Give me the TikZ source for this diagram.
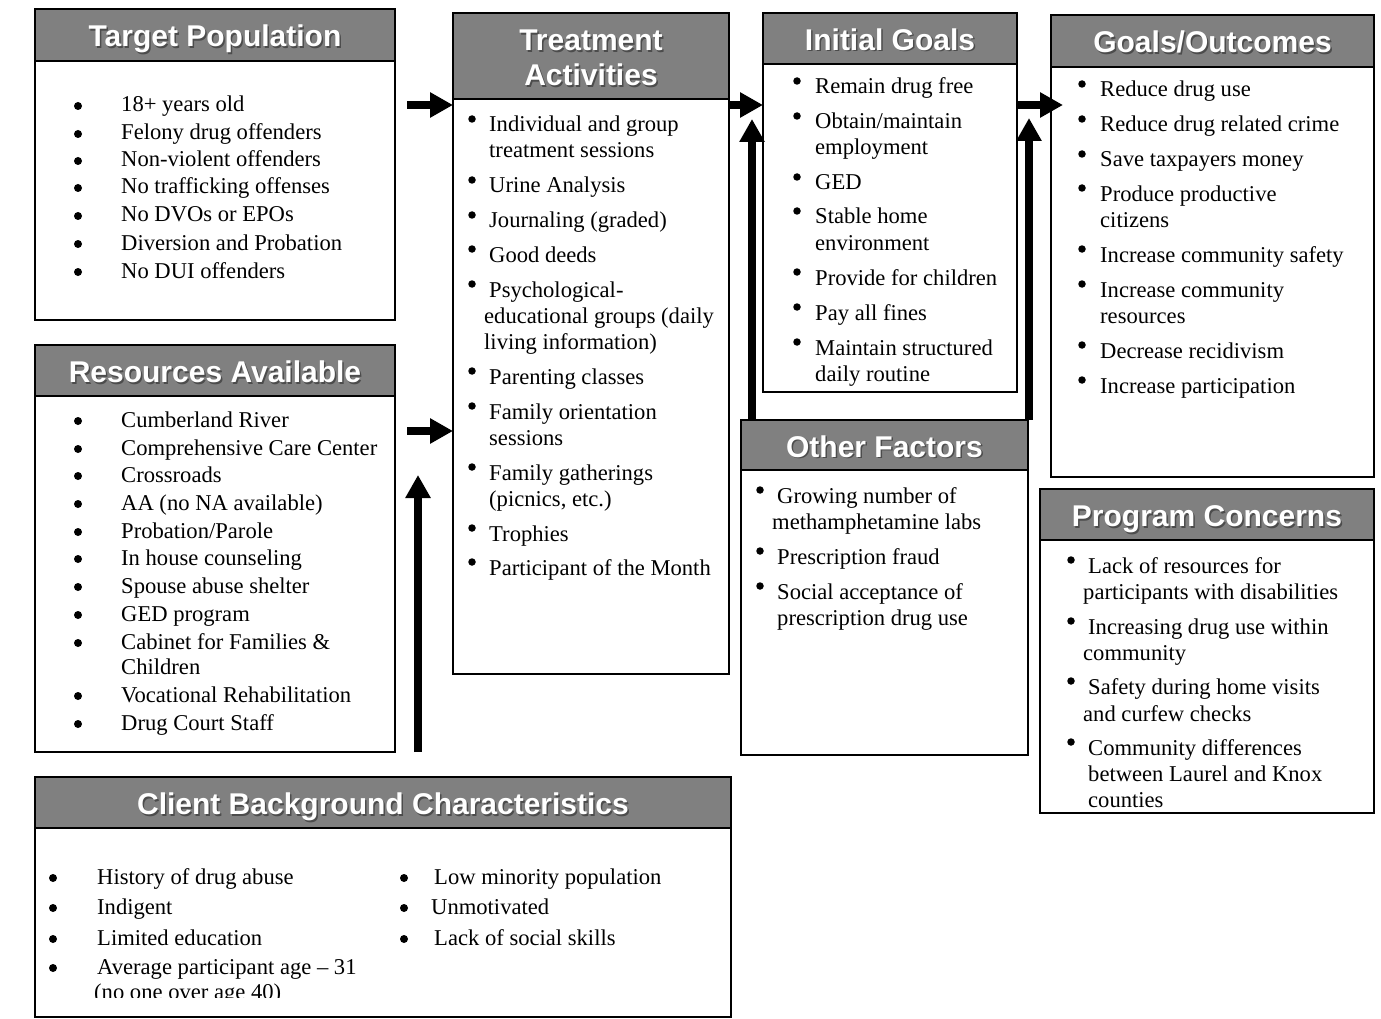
\documentclass[tikz,border=0pt]{standalone}
\usepackage{fontspec}
\setmainfont{Liberation Serif}
\newfontfamily\headfont{Liberation Sans}
\usetikzlibrary{arrows.meta}
\definecolor{hgray}{rgb}{0.5, 0.5, 0.5}
\definecolor{hshade}{rgb}{0.3, 0.3, 0.3}
\newcommand{\shtext}[1]{\rlap{\hspace{1.5pt}\raisebox{-1.5pt}{\textcolor{hshade}{#1}}}#1}
\tikzset{panel/.style = {draw, line width=2pt, rectangle, anchor=north west,
                         inner sep=0, outer sep=0}}
\tikzset{head/.style = {panel, fill=hgray, text=white, align=center,
                        font=\headfont\bfseries\fontsize{30}{35}\selectfont,
                        text height=24pt, text depth=0pt}}
\tikzset{itm/.style = {anchor=base west, inner sep=0, font=\fontsize{22.6}{26}\selectfont}}
\tikzset{bul/.style = {circle, fill, inner sep=0, minimum size=8pt, yshift=6pt}}
\tikzset{bulup/.style = {circle, fill, inner sep=0, minimum size=7.5pt, yshift=13pt}}
\tikzset{fat/.style = {line width=8pt, -{Triangle[width=24pt, length=23pt]}}}

\begin{document}
\begin{tikzpicture}[x=1pt, y=-1pt]
    \useasboundingbox[fill=white] (0,0) rectangle (1381,1019);

    % panels
    \node [panel, minimum width=360pt, minimum height=311pt] (tp) at (35,9) {};
    \node [panel, minimum width=360pt, minimum height=407pt] (rs) at (35,345) {};
    \node [panel, minimum width=276pt, minimum height=661pt] (ta) at (453,13) {};
    \node [panel, minimum width=254pt, minimum height=379pt] (ig) at (763,13) {};
    \node [panel, minimum width=323pt, minimum height=462pt] (go) at (1051,15) {};
    \node [panel, minimum width=287pt, minimum height=335pt] (of) at (741,420) {};
    \node [panel, minimum width=334pt, minimum height=324pt] (pc) at (1040,489) {};
    \node [panel, minimum width=696pt, minimum height=240pt] (cb) at (35,777) {};

    % headers
    \node [head, minimum width=360pt, minimum height=52pt] (tph) at (tp.north west) {\shtext{Target Population}};
    \node [head, minimum width=360pt, minimum height=51pt] (rsh) at (rs.north west) {\shtext{Resources Available}};
    \node [head, minimum width=276pt, minimum height=86pt, text height=60pt, text depth=0pt] (tah) at (ta.north west)
          {\shtext{Treatment}\\\shtext{Activities}};
    \node [head, minimum width=254pt, minimum height=51pt] (igh) at (ig.north west) {\shtext{Initial Goals}};
    \node [head, minimum width=323pt, minimum height=52pt] (goh) at (go.north west) {\shtext{Goals/Outcomes}};
    \node [head, minimum width=287pt, minimum height=50pt] (ofh) at (of.north west) {\shtext{Other Factors}};
    \node [head, minimum width=334pt, minimum height=51pt] (pch) at (pc.north west) {\shtext{Program Concerns}};
    \node [head, minimum width=696pt, minimum height=51pt] (cbh) at (cb.north west) {\shtext{Client Background Characteristics}};

    % items
    \foreach \bx/\x/\y/\t [count=\i] in {78/121/112/18+ years old, 78/121/140/Felony drug offenders,
        78/121/167/Non-violent offenders, 78/121/194/No trafficking offenses, 78/121/222/No DVOs or EPOs,
        78/121/250/Diversion and Probation, 78/121/278/No DUI offenders}
      {\node [itm] (tp-\i) at (\x,\y) {\t};
       \ifnum\bx>0 \node [bul] (tpb-\i) at (\bx,\y) {};\fi}

    \foreach \bx/\x/\y/\t [count=\i] in {78/121/427/Cumberland River, 78/121/455/Comprehensive Care Center,
        78/121/482/Crossroads, 78/121/510/{AA (no NA available)}, 78/121/538/{Probation/Parole},
        78/121/565/In house counseling, 78/121/593/Spouse abuse shelter, 78/121/621/GED program,
        78/121/649/{Cabinet for Families \&}, 0/121/674/Children, 78/121/702/Vocational Rehabilitation,
        78/121/730/Drug Court Staff}
      {\node [itm] (rs-\i) at (\x,\y) {\t};
       \ifnum\bx>0 \node [bul] (rsb-\i) at (\bx,\y) {};\fi}

    \foreach \bx/\x/\y/\t [count=\i] in {472/489/132/Individual and group, 0/489/158/treatment sessions,
        472/489/193/Urine Analysis, 472/489/228/{Journaling (graded)}, 472/489/262/Good deeds,
        472/489/297/Psychological-, 0/484/323/{educational groups (daily}, 0/484/349/{living information)},
        472/489/384/Parenting classes, 472/489/419/Family orientation, 0/489/445/sessions,
        472/489/480/Family gatherings, 0/489/506/{(picnics, etc.)}, 472/489/541/Trophies,
        472/489/575/Participant of the Month}
      {\node [itm] (ta-\i) at (\x,\y) {\t};
       \ifnum\bx>0 \node [bulup] (tab-\i) at (\bx,\y) {};\fi}

    \foreach \bx/\x/\y/\t [count=\i] in {797/815/94/Remain drug free, 797/815/129/{Obtain/maintain},
        0/815/155/employment, 797/815/190/GED, 797/815/224/Stable home, 0/815/250/environment,
        797/815/285/Provide for children, 797/815/320/Pay all fines, 797/815/355/Maintain structured,
        0/815/381/daily routine}
      {\node [itm] (ig-\i) at (\x,\y) {\t};
       \ifnum\bx>0 \node [bulup] (igb-\i) at (\bx,\y) {};\fi}

    \foreach \bx/\x/\y/\t [count=\i] in {1082/1100/97/Reduce drug use, 1082/1100/132/Reduce drug related crime,
        1082/1100/167/Save taxpayers money, 1082/1100/201/Produce productive, 0/1100/228/citizens,
        1082/1100/262/Increase community safety, 1082/1100/297/Increase community, 0/1100/323/resources,
        1082/1100/358/Decrease recidivism, 1082/1100/393/Increase participation}
      {\node [itm] (go-\i) at (\x,\y) {\t};
       \ifnum\bx>0 \node [bulup] (gob-\i) at (\bx,\y) {};\fi}

    \foreach \bx/\x/\y/\t [count=\i] in {760/777/503/Growing number of, 0/772/529/methamphetamine labs,
        760/777/564/Prescription fraud, 760/777/599/Social acceptance of, 0/777/625/prescription drug use}
      {\node [itm] (of-\i) at (\x,\y) {\t};
       \ifnum\bx>0 \node [bulup] (ofb-\i) at (\bx,\y) {};\fi}

    \foreach \bx/\x/\y/\t [count=\i] in {1071/1088/573/Lack of resources for,
        0/1083/599/participants with disabilities, 1071/1088/634/Increasing drug use within,
        0/1083/660/community, 1071/1088/694/Safety during home visits, 0/1083/721/and curfew checks,
        1071/1088/755/Community differences, 0/1088/781/between Laurel and Knox, 0/1088/807/counties}
      {\node [itm] (pc-\i) at (\x,\y) {\t};
       \ifnum\bx>0 \node [bulup] (pcb-\i) at (\bx,\y) {};\fi}

    \foreach \bx/\x/\y/\t [count=\i] in {53/97/884/History of drug abuse, 53/97/914/Indigent,
        53/97/945/Limited education, 53/97/974/Average participant age – 31,
        404/434/884/Low minority population, 404/431/914/Unmotivated, 404/434/945/Lack of social skills}
      {\node [itm] (cb-\i) at (\x,\y) {\t};
       \node [bul] (cbb-\i) at (\bx,\y) {};}
    \begin{scope}
      \clip (35,960) rectangle (731,997);
      \node [itm] (cb-8) at (94,999) {(no one over age 40)};
    \end{scope}

    % arrows
    \draw [fat, shorten <=12pt] (tp.east |- 0,105) -- (ta.west |- 0,105);
    \draw [fat, shorten <=12pt] (rs.east |- 0,431) -- (ta.west |- 0,431);
    \draw [fat] (ta.east |- 0,105) -- (ig.west |- 0,105);
    \draw [fat, shorten >=-12pt] (ig.east |- 0,105) -- (go.west |- 0,105);

    \coordinate (up1) at (418,475);
    \coordinate (up2) at (752,119);
    \coordinate (up3) at (1029,118);
    \draw [fat, shorten <=25pt] (cb.north -| up1) -- (up1);
    \draw [fat] (of.north -| up2) -- (up2);
    \draw [fat] (of.north -| up3) -- (up3);
  \end{tikzpicture}
\end{document}
